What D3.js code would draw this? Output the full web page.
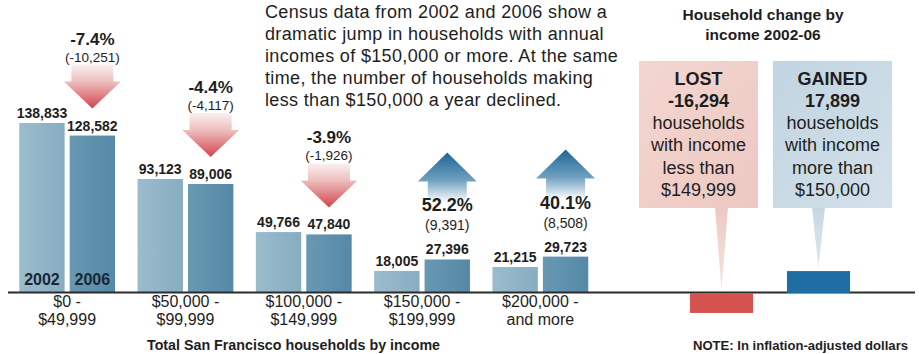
<!DOCTYPE html>
<html>
<head>
<meta charset="utf-8">
<script src="https://cdn.jsdelivr.net/npm/d3@7"></script>
<style>
  html, body { margin: 0; padding: 0; background: #fff; }
  svg { display: block; }
  text { font-family: "Liberation Sans", Arial, sans-serif; fill: #1e1e1e; }
</style>
</head>
<body>
<svg id="chart" width="919" height="354"></svg>
<script>
// ---------- data ----------
const categories = ["$0 - $49,999", "$50,000 - $99,999", "$100,000 - $149,999", "$150,000 - $199,999", "$200,000 - and more"];
const categoryLines = [["$0 -", "$49,999"], ["$50,000 -", "$99,999"], ["$100,000 -", "$149,999"], ["$150,000 -", "$199,999"], ["$200,000 -", "and more"]];
const years = ["2002", "2006"];
const values2002 = [138833, 93123, 49766, 18005, 21215];
const values2006 = [128582, 89006, 47840, 27396, 29723];
const pctChange = ["-7.4%", "-4.4%", "-3.9%", "52.2%", "40.1%"];
const absChange = ["(-10,251)", "(-4,117)", "(-1,926)", "(9,391)", "(8,508)"];
const summaryKeys = ["LOST", "GAINED"];
const summaryValues = [-16294, 17899];
const summaryNumberLabels = ["-16,294", "17,899"];
const summaryLines = [["households", "with income", "less than", "$149,999"], ["households", "with income", "more than", "$150,000"]];
const introLines = [
  "Census data from 2002 and 2006 show a",
  "dramatic jump in households with annual",
  "incomes of $150,000 or more. At the same",
  "time, the number of households making",
  "less than $150,000 a year declined."
];
const panelTitle = ["Household change by", "income 2002-06"];
const chartTitle = "Total San Francisco households by income";
const noteText = "NOTE: In inflation-adjusted dollars";

// ---------- setup ----------
const svg = d3.select("#chart");
const defs = svg.append("defs");

function linGrad(id, stops, x1, y1, x2, y2) {
  const g = defs.append("linearGradient").attr("id", id)
    .attr("x1", x1).attr("y1", y1).attr("x2", x2).attr("y2", y2);
  stops.forEach(s => g.append("stop").attr("offset", s[0]).attr("stop-color", s[1]));
}
linGrad("gDown", [[0, "#fbf1f1"], [0.4, "#eebcbc"], [1, "#d2434c"]], 0, 0, 0, 1);
linGrad("gUp", [[0, "#1c6696"], [0.55, "#6f9fc0"], [1, "#ffffff"]], 0, 0, 0, 1);
linGrad("gBar02", [[0, "#9bbccd"], [1, "#87adc1"]], 0, 0, 1, 0);
linGrad("gBar06", [[0, "#6899b3"], [1, "#5689a6"]], 0, 0, 1, 0);
linGrad("gPink", [[0, "#f3d6d0"], [1, "#eec8c2"]], 0, 0, 1, 1);
linGrad("gBlue", [[0, "#c1d4e1"], [1, "#d3e1ea"]], 0, 0, 1, 1);
linGrad("gPinkTail", [[0, "#eec8c2"], [1, "#f6e6e2"]], 0, 0, 0, 1);
linGrad("gBlueTail", [[0, "#c5d7e3"], [1, "#dfe9f0"]], 0, 0, 0, 1);

const y = d3.scaleLinear().domain([0, 138833]).range([293, 123]);

const x0 = d3.scaleBand().domain(categories).range([8, 599.5]).paddingInner(0.19).paddingOuter(0.095);
const x1 = d3.scaleBand().domain(years).range([0, x0.bandwidth()]).paddingInner(0.1);

const rows = categories.map((c, i) => ({
  cat: c, i, v: [values2002[i], values2006[i]]
}));

// ---------- bars ----------
const groups = svg.append("g").selectAll("g").data(rows).join("g")
  .attr("transform", d => `translate(${x0(d.cat)},0)`);

groups.selectAll("rect").data(d => years.map((yr, k) => ({ yr, v: d.v[k], k })))
  .join("rect")
  .attr("x", d => x1(d.yr))
  .attr("y", d => y(d.v))
  .attr("width", x1.bandwidth())
  .attr("height", d => y(0) - y(d.v))
  .attr("fill", d => d.k === 0 ? "url(#gBar02)" : "url(#gBar06)");

groups.selectAll("text.val").data(d => years.map((yr, k) => ({ yr, v: d.v[k] })))
  .join("text").attr("class", "val")
  .attr("x", d => x1(d.yr) + x1.bandwidth() / 2)
  .attr("y", d => y(d.v) - 5)
  .attr("text-anchor", "middle")
  .style("font-weight", "bold").style("font-size", "14px")
  .text(d => d3.format(",")(d.v));

// year labels inside the first group's bars
svg.append("g").selectAll("text").data(years).join("text")
  .attr("x", d => x0(categories[0]) + x1(d) + x1.bandwidth() / 2)
  .attr("y", 285)
  .attr("text-anchor", "middle")
  .style("font-weight", "bold").style("font-size", "16px").style("fill", "#1a2633")
  .text(d => d);

// ---------- baseline ----------
svg.append("line").attr("x1", 8).attr("x2", 915).attr("y1", y(0) - 0.5).attr("y2", y(0) - 0.5)
  .attr("stroke", "#2b2b2b").attr("stroke-width", 2);

// ---------- category labels ----------
const catG = svg.append("g").selectAll("text").data(rows).join("text")
  .attr("text-anchor", "middle")
  .style("font-size", "16px")
  .attr("x", d => x0(d.cat) + x0.bandwidth() / 2);
catG.selectAll("tspan").data(d => categoryLines[d.i].map(t => ({ t, x: x0(d.cat) + x0.bandwidth() / 2 })))
  .join("tspan")
  .attr("x", d => d.x)
  .attr("y", (d, k) => 307 + k * 18)
  .text(d => d.t);

// ---------- arrows ----------
rows.forEach(d => {
  const cx = x0(d.cat) + x1("2006") + x1.bandwidth() / 2;
  const top = y(d.v[1]);
  const up = d.v[1] > d.v[0];
  if (!up) {
    const ty = top - 27;
    const pts = [[cx - 21, ty - 44], [cx + 21, ty - 44], [cx + 21, ty - 27], [cx + 28.5, ty - 27],
                 [cx, ty], [cx - 28.5, ty - 27], [cx - 21, ty - 27]];
    svg.append("path").attr("d", d3.line()(pts) + "Z").attr("fill", "url(#gDown)");
    svg.append("text").attr("x", cx).attr("y", ty - 64).attr("text-anchor", "middle")
      .style("font-weight", "bold").style("font-size", "17px").text(pctChange[d.i]);
    svg.append("text").attr("x", cx).attr("y", ty - 47).attr("text-anchor", "middle")
      .style("font-size", "13.5px").text(absChange[d.i]);
  } else {
    const ty = top - 107;
    const pts = [[cx, ty], [cx + 29.5, ty + 29], [cx + 19.5, ty + 29], [cx + 19.5, ty + 50],
                 [cx - 19.5, ty + 50], [cx - 19.5, ty + 29], [cx - 29.5, ty + 29]];
    svg.append("path").attr("d", d3.line()(pts) + "Z").attr("fill", "url(#gUp)");
    svg.append("text").attr("x", cx).attr("y", top - 48).attr("text-anchor", "middle")
      .style("font-weight", "bold").style("font-size", "18px").text(pctChange[d.i]);
    svg.append("text").attr("x", cx).attr("y", top - 29).attr("text-anchor", "middle")
      .style("font-size", "14px").text(absChange[d.i]);
  }
});

// ---------- intro paragraph ----------
svg.append("g").selectAll("text").data(introLines).join("text")
  .attr("x", 265).attr("y", (d, i) => 18 + i * 22)
  .style("font-size", "18px").style("letter-spacing", "0.35px")
  .text(d => d);

// ---------- right panel ----------
svg.append("g").selectAll("text").data(panelTitle).join("text")
  .attr("x", 763).attr("y", (d, i) => 20 + i * 20)
  .attr("text-anchor", "middle")
  .style("font-weight", "bold").style("font-size", "15.5px")
  .text(d => d);

const xs = d3.scaleBand().domain(summaryKeys).range([673, 867]).paddingInner(0.35).paddingOuter(0.175);
const boxX = [639, 773], boxW = 119, boxTop = 61, boxBottom = 208;

summaryKeys.forEach((k, i) => {
  const v = summaryValues[i];
  const cx = xs(k) + xs.bandwidth() / 2;
  const tipY = Math.min(y(0), y(v)) - 3;
  // tail
  svg.append("path")
    .attr("d", d3.line()([[cx - 6.5, boxBottom - 1], [cx + 6.5, boxBottom - 1], [cx, tipY]]) + "Z")
    .attr("fill", i === 0 ? "url(#gPinkTail)" : "url(#gBlueTail)");
  // box
  svg.append("rect").attr("x", boxX[i]).attr("y", boxTop).attr("width", boxW).attr("height", boxBottom - boxTop)
    .attr("fill", i === 0 ? "url(#gPink)" : "url(#gBlue)");
  const bcx = boxX[i] + boxW / 2;
  svg.append("text").attr("x", bcx).attr("y", 85).attr("text-anchor", "middle")
    .style("font-family", "'Liberation Sans Narrow', 'Liberation Sans', sans-serif")
    .style("font-weight", "bold").style("font-size", "18px").text(k);
  svg.append("text").attr("x", bcx).attr("y", 107).attr("text-anchor", "middle")
    .style("font-weight", "bold").style("font-size", "18px").text(summaryNumberLabels[i]);
  summaryLines[i].forEach((t, j) => {
    svg.append("text").attr("x", bcx).attr("y", 129 + j * 22.3).attr("text-anchor", "middle")
      .style("font-size", "18px").text(t);
  });
  // bar
  svg.append("rect").attr("x", xs(k)).attr("width", xs.bandwidth())
    .attr("y", Math.min(y(0), y(v))).attr("height", Math.abs(y(v) - y(0)))
    .attr("fill", i === 0 ? "#d4534f" : "#1f6ea3");
});

// ---------- titles / notes ----------
svg.append("text").attr("x", 147).attr("y", 350)
  .style("font-family", "'Liberation Sans Narrow', 'Liberation Sans', sans-serif")
  .style("font-weight", "bold").style("font-size", "15px")
  .attr("textLength", 293).attr("lengthAdjust", "spacingAndGlyphs")
  .text(chartTitle);

svg.append("text").attr("x", 693).attr("y", 350)
  .style("font-family", "'Liberation Sans Narrow', 'Liberation Sans', sans-serif")
  .style("font-weight", "bold").style("font-size", "13px")
  .attr("textLength", 215).attr("lengthAdjust", "spacingAndGlyphs")
  .text(noteText);
</script>
</body>
</html>
